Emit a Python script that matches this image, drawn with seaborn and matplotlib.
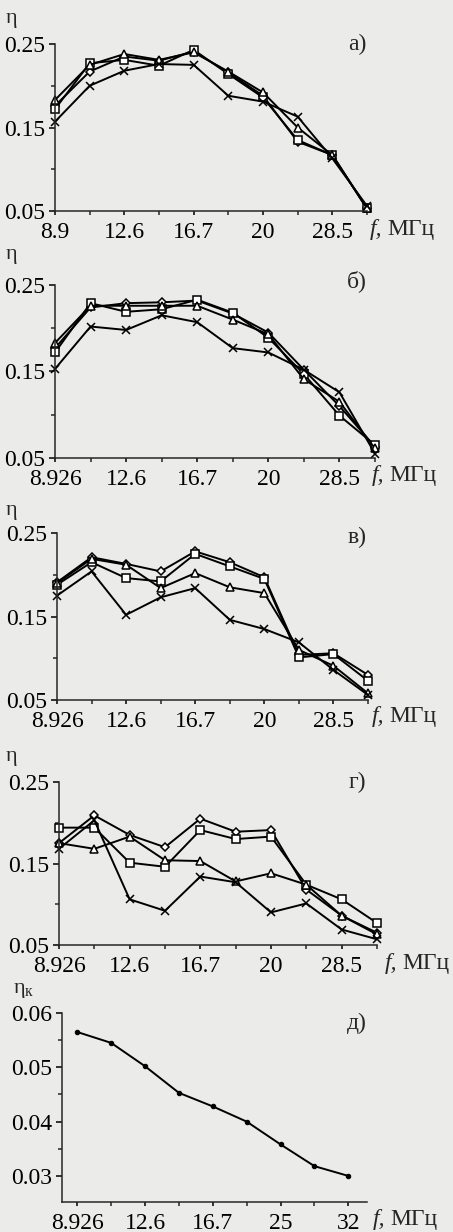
import matplotlib
matplotlib.use("Agg")
import matplotlib.pyplot as plt
import seaborn as sns
import numpy as np
from matplotlib.ticker import FixedLocator

# ---------------- data ----------------
idx10 = list(range(10))
idx9 = list(range(9))

ticks_a = ["8.9", "12.6", "16.7", "20", "28.5"]
ticks_bvg = ["8.926", "12.6", "16.7", "20", "28.5"]
ticks_d = ["8.926", "12.6", "16.7", "25", "32"]

a_diamond = [0.176, 0.217, 0.235, 0.230, 0.241, 0.216, 0.188, 0.133, 0.117, 0.053]
a_square = [0.172, 0.227, 0.231, 0.224, 0.243, 0.214, 0.186, 0.135, 0.117, 0.053]
a_triangle = [0.183, 0.225, 0.238, 0.231, 0.240, 0.217, 0.192, 0.150, 0.117, 0.053]
a_cross = [0.157, 0.200, 0.218, 0.226, 0.225, 0.188, 0.181, 0.163, 0.113, 0.056]

b_diamond = [0.177, 0.224, 0.229, 0.230, 0.232, 0.217, 0.195, 0.152, 0.110, 0.063]
b_square = [0.172, 0.229, 0.219, 0.222, 0.233, 0.218, 0.189, 0.147, 0.099, 0.065]
b_triangle = [0.183, 0.226, 0.226, 0.226, 0.226, 0.210, 0.193, 0.141, 0.115, 0.061]
b_cross = [0.153, 0.202, 0.198, 0.215, 0.207, 0.177, 0.172, 0.152, 0.126, 0.055]

v_diamond = [0.191, 0.221, 0.213, 0.204, 0.228, 0.215, 0.197, 0.104, 0.106, 0.080]
v_square = [0.188, 0.215, 0.196, 0.192, 0.225, 0.210, 0.195, 0.101, 0.105, 0.073]
v_triangle = [0.190, 0.219, 0.212, 0.184, 0.202, 0.185, 0.178, 0.110, 0.091, 0.058]
v_cross = [0.175, 0.204, 0.152, 0.173, 0.184, 0.146, 0.135, 0.119, 0.086, 0.056]

g_diamond = [0.175, 0.209, 0.185, 0.170, 0.205, 0.189, 0.191, 0.118, 0.086, 0.065]
g_square = [0.194, 0.194, 0.151, 0.146, 0.191, 0.180, 0.183, 0.124, 0.106, 0.077]
g_triangle = [0.175, 0.168, 0.183, 0.154, 0.153, 0.128, 0.138, 0.124, 0.086, 0.063]
g_cross = [0.168, 0.203, 0.106, 0.092, 0.134, 0.127, 0.090, 0.101, 0.069, 0.057]

d_values = [0.0565, 0.0545, 0.0502, 0.0453, 0.0428, 0.0400, 0.0358, 0.0318, 0.0300]

panel_names = ["а)", "б)", "в)", "г)", "д)"]

# ---------------- style ----------------
sns.set_style("ticks")
plt.rcParams["font.family"] = ["Liberation Serif", "DejaVu Serif"]
plt.rcParams["axes.linewidth"] = 1.1

W, H = 453, 1232
BG = "#ebebe9"
fig = plt.figure(figsize=(W / 100, H / 100), dpi=100, facecolor=BG)

FS = 17


def add_axes_px(x0, x1, ytop, ybot):
    return fig.add_axes([x0 / W, 1 - ybot / H, (x1 - x0) / W, (ybot - ytop) / H])


markers = [("D", 4.5), ("s", 5.8), ("^", 5.8), ("x", 6.0)]


def draw_panel(ax, series, ticklabels):
    for vals, (m, ms) in zip(series, markers):
        sns.lineplot(x=idx10, y=vals, ax=ax, color="black", linewidth=1.4,
                     marker=m, markersize=ms,
                     markerfacecolor="white" if m != "x" else "black",
                     markeredgecolor="black", markeredgewidth=1.1, clip_on=False)
    ax.set_xlim(0, 9)
    ax.set_ylim(0.05, 0.25)
    ax.set_yticks([0.05, 0.15, 0.25])
    ax.set_yticklabels(["0.05", "0.15", "0.25"])
    ax.yaxis.set_minor_locator(FixedLocator([0.10, 0.20]))
    ax.set_xticks([0, 2, 4, 6, 8])
    ax.set_xticklabels(ticklabels)
    ax.xaxis.set_minor_locator(FixedLocator([1, 3, 5, 7, 9]))


boxes = [
    (55, 367, 44, 211),
    (55, 375, 285, 458),
    (57, 368, 533, 700),
    (59, 377, 782, 945),
]
all_series = [
    [a_diamond, a_square, a_triangle, a_cross],
    [b_diamond, b_square, b_triangle, b_cross],
    [v_diamond, v_square, v_triangle, v_cross],
    [g_diamond, g_square, g_triangle, g_cross],
]
all_ticks = [ticks_a, ticks_bvg, ticks_bvg, ticks_bvg]
label_pos = [(357, 44), (357, 281), (357, 537), (357, 782), (357, 1023)]
eta_pos = [(6, 19), (6, 254), (6, 511), (6, 756), (13, 990)]
flabel_y = [229, 476, 716, 963, 1220]
flabel_x = [370, 372, 372, 385, 373]

axes = []
for box, ser, tl in zip(boxes, all_series, all_ticks):
    ax = add_axes_px(*box)
    draw_panel(ax, ser, tl)
    axes.append(ax)

# panel д
axd = add_axes_px(62, 367, 1013, 1202)
sns.lineplot(x=idx9, y=d_values, ax=axd, color="black", linewidth=1.4,
             marker="o", markersize=3.2, markeredgecolor="black", clip_on=False)
axd.set_xlim(-0.45, 8.55)
axd.set_ylim(0.0252, 0.06)
axd.set_yticks([0.03, 0.04, 0.05, 0.06])
axd.set_yticklabels(["0.03", "0.04", "0.05", "0.06"])
axd.yaxis.set_minor_locator(FixedLocator([0.035, 0.045, 0.055]))
axd.set_xticks([0, 2, 4, 6, 8])
axd.set_xticklabels(ticks_d)
axd.xaxis.set_minor_locator(FixedLocator([1, 3, 5, 7]))
axes.append(axd)

for ax in axes:
    ax.set_facecolor("none")
    sns.despine(ax=ax)
    ax.set_xlabel("")
    ax.set_ylabel("")
    ax.tick_params(axis="both", which="major", labelsize=FS, length=4, width=1.1,
                   direction="out", pad=3, colors="black")
    ax.tick_params(axis="both", which="minor", length=3, width=1.1, direction="out")
    ax.tick_params(axis="x", which="major", length=3, pad=5)

for i, ax in enumerate(axes):
    lx, ly = label_pos[i]
    fig.text(lx / W, 1 - ly / H, panel_names[i], fontsize=FS, ha="center", va="center")
    ex, ey = eta_pos[i]
    lbl = "η" if i < 4 else "η$_{\\mathregular{к}}$"
    fig.text(ex / W, 1 - ey / H, lbl, fontsize=FS - 1, ha="left", va="center")
    fx, fy = flabel_x[i], flabel_y[i]
    fig.text(fx / W, 1 - fy / H, "f,", fontsize=FS, style="italic", ha="left", va="center")
    fig.text((fx + 17) / W, 1 - fy / H, "МГц", fontsize=FS, ha="left", va="center")

fig.savefig("out.png", dpi=100, facecolor=BG)
